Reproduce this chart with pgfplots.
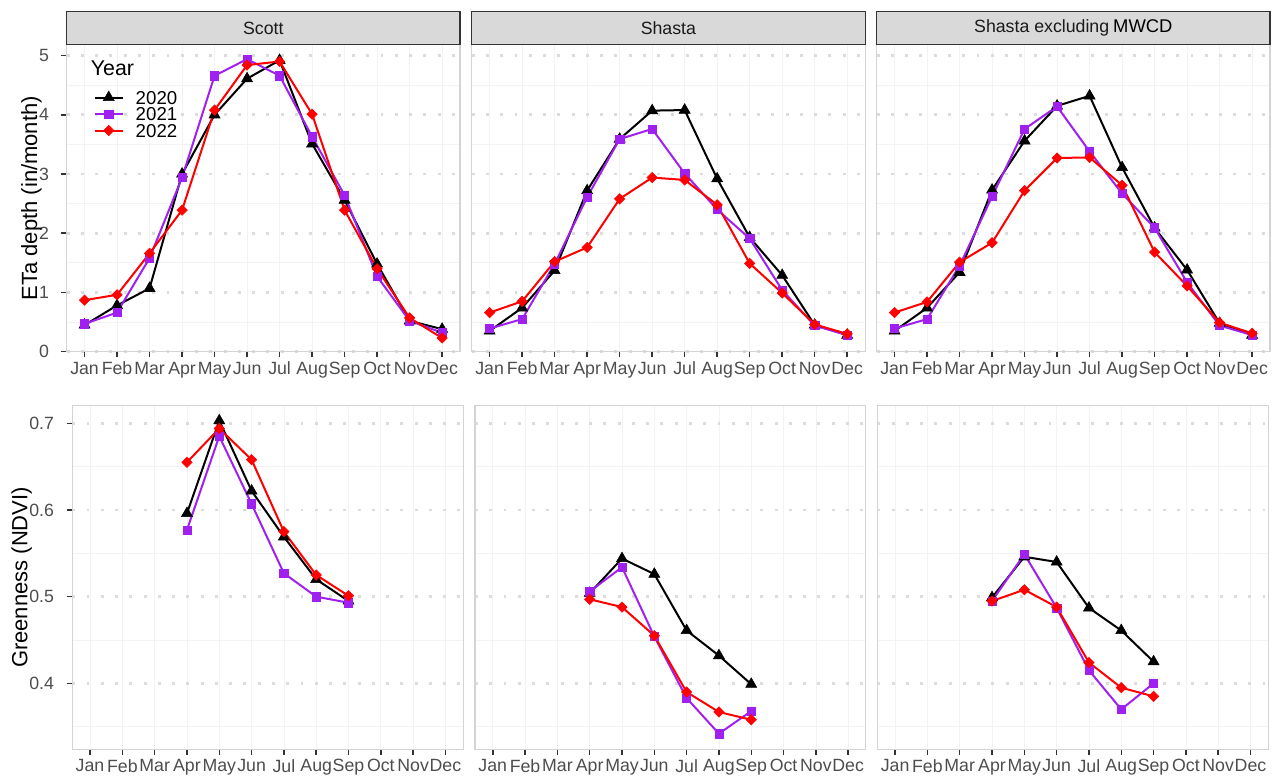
\documentclass[border=0pt]{standalone}
\usepackage{pgfplots}
\pgfplotsset{compat=1.18}
\usepackage{fontspec}
\setmainfont{Liberation Sans}
\definecolor{cpurple}{HTML}{A020F0}
\definecolor{cred}{HTML}{FF0000}
\definecolor{ticklab}{HTML}{4D4D4D}
\definecolor{tickc}{HTML}{333333}
\definecolor{stripfill}{HTML}{D9D9D9}
\definecolor{gridc}{HTML}{DCDCDC}
\definecolor{gridf}{HTML}{F3F3F3}
\definecolor{framec}{HTML}{D4D4D4}
\definecolor{striptext}{HTML}{1A1A1A}
\pgfplotsset{
  panel/.style={
    scale only axis, anchor=south west, clip=false,
    xmin=0.45, xmax=12.55,
    xtick={1,...,12},
    xticklabels={Jan,Feb,Mar,Apr,May,Jun,Jul,Aug,Sep,Oct,Nov,Dec},
    tick align=outside, tick pos=left,
    major tick length=4.3pt, minor tick length=0pt,
    every tick/.style={tickc, line width=1.1pt},
    axis line style={framec, line width=0.8pt},
    /pgf/number format/assume math mode=true,
    ticklabel style={font=\fontsize{13.3}{13.3}\selectfont, text=ticklab},
    xticklabel style={anchor=north, inner sep=0pt, yshift=-3.2pt},
    yticklabel style={anchor=east, inner sep=0pt},
    xmajorgrids, ymajorgrids, yminorgrids,
    major x grid style={gridf, line width=0.5pt},
    major y grid style={gridc, line width=2pt, dash pattern=on 2.2pt off 8.5pt},
    minor y grid style={gridf, line width=0.5pt},
  },
  toprow/.style={panel, width=295pt, height=230.5pt,
    ymin=0, ymax=5.19, ytick={0,1,2,3,4,5},
    minor ytick={0.5,1.5,2.5,3.5,4.5}},
  botrow/.style={panel, width=293.2pt, height=257.5pt,
    ymin=0.324, ymax=0.72, ytick={0.4,0.5,0.6,0.7},
    minor ytick={0.35,0.45,0.55,0.65}},
  noy/.style={yticklabels={}, ytick style={draw=none}},
  s20/.style={black, line width=1.5pt, mark=triangle*, mark size=4.8pt, mark options={solid, line width=0.4pt}},
  s21/.style={cpurple, line width=1.5pt, mark=square*, mark size=3.1pt, mark options={solid, line width=0.4pt}},
  s22/.style={cred, line width=1.5pt, mark=square*, mark size=2.75pt, mark options={solid, rotate=45, line width=0.4pt}},
}
\begin{document}
\begin{tikzpicture}
\useasboundingbox (0,0) rectangle (958.5pt,585.75pt);
% ---------- top row: ETa ----------
\begin{axis}[toprow, at={(50pt,322pt)}, yticklabels={0,1,2,3,4,5},
  yticklabel style={xshift=-8.8pt},
  legend style={at={(axis description cs:0.058,0.862)}, anchor=north west, draw=none, fill=none,
    font=\fontsize{14}{14}\selectfont, row sep=0.6pt,
    nodes={inner sep=1pt, text depth=0pt},
    /tikz/every odd column/.append style={column sep=8pt}},
  legend cell align=left,
  legend image code/.code={\draw[mark repeat=2,mark phase=2] plot coordinates {(0pt,0pt) (10.5pt,0pt) (21pt,0pt)};}]
\addplot[s20] coordinates {(1,0.45)(2,0.78)(3,1.07)(4,3.00)(5,4.00)(6,4.61)(7,4.92)(8,3.51)(9,2.56)(10,1.48)(11,0.52)(12,0.38)};
\addplot[s21] coordinates {(1,0.47)(2,0.66)(3,1.58)(4,2.94)(5,4.66)(6,4.94)(7,4.66)(8,3.63)(9,2.64)(10,1.27)(11,0.52)(12,0.32)};
\addplot[s22] coordinates {(1,0.87)(2,0.96)(3,1.66)(4,2.39)(5,4.08)(6,4.84)(7,4.90)(8,4.01)(9,2.39)(10,1.40)(11,0.57)(12,0.23)};
\legend{2020,2021,2022}
\node[anchor=base west, inner sep=0pt, font=\fontsize{16}{16}\selectfont] at (axis description cs:0.061,0.897) {Year};
\end{axis}
\begin{axis}[toprow, noy, at={(353.8pt,322pt)}]
\addplot[s20] coordinates {(1,0.35)(2,0.74)(3,1.37)(4,2.72)(5,3.59)(6,4.07)(7,4.08)(8,2.92)(9,1.93)(10,1.29)(11,0.45)(12,0.28)};
\addplot[s21] coordinates {(1,0.39)(2,0.55)(3,1.48)(4,2.61)(5,3.59)(6,3.76)(7,3.01)(8,2.40)(9,1.91)(10,1.04)(11,0.44)(12,0.28)};
\addplot[s22] coordinates {(1,0.66)(2,0.85)(3,1.52)(4,1.76)(5,2.58)(6,2.94)(7,2.90)(8,2.48)(9,1.49)(10,0.99)(11,0.46)(12,0.30)};
\end{axis}
\begin{axis}[toprow, noy, at={(657.5pt,322pt)}]
\addplot[s20] coordinates {(1,0.35)(2,0.74)(3,1.34)(4,2.73)(5,3.56)(6,4.15)(7,4.32)(8,3.11)(9,2.09)(10,1.38)(11,0.48)(12,0.28)};
\addplot[s21] coordinates {(1,0.39)(2,0.55)(3,1.45)(4,2.62)(5,3.76)(6,4.14)(7,3.38)(8,2.67)(9,2.09)(10,1.17)(11,0.44)(12,0.28)};
\addplot[s22] coordinates {(1,0.66)(2,0.84)(3,1.51)(4,1.84)(5,2.72)(6,3.27)(7,3.28)(8,2.81)(9,1.68)(10,1.11)(11,0.49)(12,0.31)};
\end{axis}
% ---------- bottom row: NDVI ----------
\begin{axis}[botrow, at={(54.2pt,23.8pt)}, yticklabels={0.4,0.5,0.6,0.7},
  yticklabel style={xshift=-9.2pt}]
\addplot[s20] coordinates {(4,0.596)(5,0.703)(6,0.622)(7,0.569)(8,0.520)(9,0.495)};
\addplot[s21] coordinates {(4,0.577)(5,0.685)(6,0.607)(7,0.527)(8,0.500)(9,0.493)};
\addplot[s22] coordinates {(4,0.655)(5,0.694)(6,0.658)(7,0.575)(8,0.525)(9,0.501)};
\end{axis}
\begin{axis}[botrow, noy, at={(356.25pt,23.8pt)}]
\addplot[s20] coordinates {(4,0.504)(5,0.544)(6,0.526)(7,0.461)(8,0.432)(9,0.399)};
\addplot[s21] coordinates {(4,0.506)(5,0.534)(6,0.454)(7,0.383)(8,0.342)(9,0.368)};
\addplot[s22] coordinates {(4,0.497)(5,0.488)(6,0.455)(7,0.390)(8,0.367)(9,0.358)};
\end{axis}
\begin{axis}[botrow, noy, at={(658pt,23.8pt)}]
\addplot[s20] coordinates {(4,0.499)(5,0.546)(6,0.540)(7,0.487)(8,0.461)(9,0.425)};
\addplot[s21] coordinates {(4,0.495)(5,0.549)(6,0.487)(7,0.415)(8,0.370)(9,0.400)};
\addplot[s22] coordinates {(4,0.495)(5,0.508)(6,0.488)(7,0.424)(8,0.395)(9,0.385)};
\end{axis}
% ---------- strips ----------
\begin{scope}[line width=0.8pt]
\draw[tickc, fill=stripfill] (50pt,552.6pt) rectangle ++(295pt,24.2pt);
\draw[tickc, fill=stripfill] (353.8pt,552.6pt) rectangle ++(295pt,24.2pt);
\draw[tickc, fill=stripfill] (657.5pt,552.6pt) rectangle ++(295pt,24.2pt);
\end{scope}
\begin{scope}[font=\fontsize{13.3}{13.3}\selectfont, text=striptext]
\node at (197.5pt,564.7pt) {Scott};
\node at (501.3pt,564.7pt) {Shasta};
\node at (805pt,564.7pt) {Shasta excluding\hspace{3pt}{\color{black}\fontsize{13.8}{13.8}\selectfont MWCD}};
\end{scope}
% ---------- axis titles ----------
\node[rotate=90, font=\fontsize{16.5}{16.5}\selectfont] at (23.6pt,437.1pt) {ETa depth (in/month)};
\node[rotate=90, font=\fontsize{16.5}{16.5}\selectfont] at (16.3pt,152.6pt) {Greenness (NDVI)};
\end{tikzpicture}
\end{document}
